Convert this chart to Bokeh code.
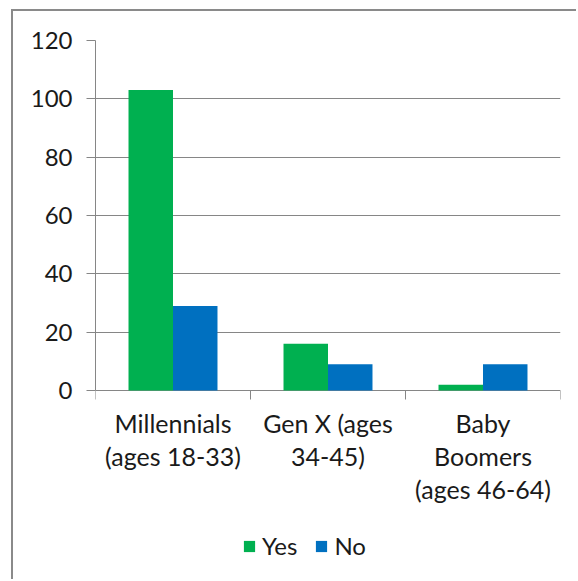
from bokeh.plotting import figure
from bokeh.models import ColumnDataSource, Range1d, FixedTicker, Legend, LegendItem
from bokeh.core.properties import value
from bokeh.transform import dodge
from bokeh.embed import file_html
from bokeh.resources import INLINE

# Survey responses by generation
categories = ["Millennials\n(ages 18-33)", "Gen X (ages\n34-45)", "Baby\nBoomers\n(ages 46-64)"]
yes_counts = [103, 16, 2]
no_counts = [29, 9, 9]
y_ticks = [0, 20, 40, 60, 80, 100, 120]

GREEN = "#00B050"
BLUE = "#0070C0"
GRID = "#868686"
TEXT = "#1a1a1a"
FONT = "Lato"

# Layout in pixels: the plot area runs from the top margin to the bottom of the
# chart, with the value scale occupying the upper part and the category labels
# and legend drawn in the space under zero.
FIG_W, FIG_H = 565, 570
TOP, LEFT, RIGHT = 29, 82, 18
SCALE_PX = 350                      # pixels between 0 and 120
Y_MAX = y_ticks[-1]
px_per_unit = SCALE_PX / Y_MAX
y_min = Y_MAX - (FIG_H - TOP) / px_per_unit
tick_len = 9 / px_per_unit

n = len(categories)
centers = [i + 0.5 for i in range(n)]
bounds = list(range(n + 1))
src = ColumnDataSource(dict(pos=centers, cat=categories, yes=yes_counts, no=no_counts))
bsrc = ColumnDataSource(dict(x=bounds, y0=[0] * len(bounds), y1=[-tick_len] * len(bounds)))

p = figure(
    width=FIG_W, height=FIG_H,
    x_range=Range1d(0, n),
    y_range=Range1d(y_min, Y_MAX),
    x_axis_location=None,
    output_backend="svg", toolbar_location=None,
    min_border_left=LEFT, min_border_top=TOP, min_border_right=RIGHT, min_border_bottom=0,
)
p.styles = {"border-left": "2px solid #8a8a8a", "border-top": "2px solid #8a8a8a",
            "margin-left": "11px", "margin-top": "9px"}
p.outline_line_color = None
p.background_fill_color = "white"
p.border_fill_color = "white"

# Clustered columns
bar_w = 0.287
r_yes = p.vbar(x=dodge("pos", -bar_w / 2), top="yes", width=bar_w,
               source=src, fill_color=GREEN, line_color=None)
r_no = p.vbar(x=dodge("pos", bar_w / 2), top="no", width=bar_w,
              source=src, fill_color=BLUE, line_color=None)

# Value axis
yax = p.yaxis[0]
yax.ticker = FixedTicker(ticks=y_ticks)
yax.bounds = (0, Y_MAX)
yax.axis_line_color = GRID
yax.major_tick_line_color = GRID
yax.major_tick_out = 9
yax.major_tick_in = 0
yax.minor_tick_line_color = None
yax.major_label_standoff = 14
yax.major_label_text_font = FONT
yax.major_label_text_font_size = "24px"
yax.major_label_text_color = TEXT

p.ygrid.ticker = FixedTicker(ticks=y_ticks)
p.ygrid.grid_line_color = GRID
p.xgrid.grid_line_color = None

# Category axis: tick marks between groups and wrapped labels under each group
p.segment(x0="x", y0="y0", x1="x", y1="y1", source=bsrc, line_color=GRID, line_width=1)
p.text(x="pos", y=0, text="cat", source=src, y_offset=17,
       text_align="center", text_baseline="top",
       text_font=value(FONT), text_font_size=value("25px"), text_color=TEXT,
       text_line_height=1.1)

legend = Legend(
    items=[LegendItem(label="Yes", renderers=[r_yes]), LegendItem(label="No", renderers=[r_no])],
    orientation="horizontal", location=(147, 21),
    glyph_width=14, glyph_height=14, label_standoff=6, spacing=17,
    label_text_font=FONT, label_text_font_size="24px", label_text_color=TEXT,
    border_line_color=None, background_fill_alpha=0, padding=0, margin=0,
)
p.add_layout(legend)

open("out.html", "w").write(file_html(p, INLINE))
